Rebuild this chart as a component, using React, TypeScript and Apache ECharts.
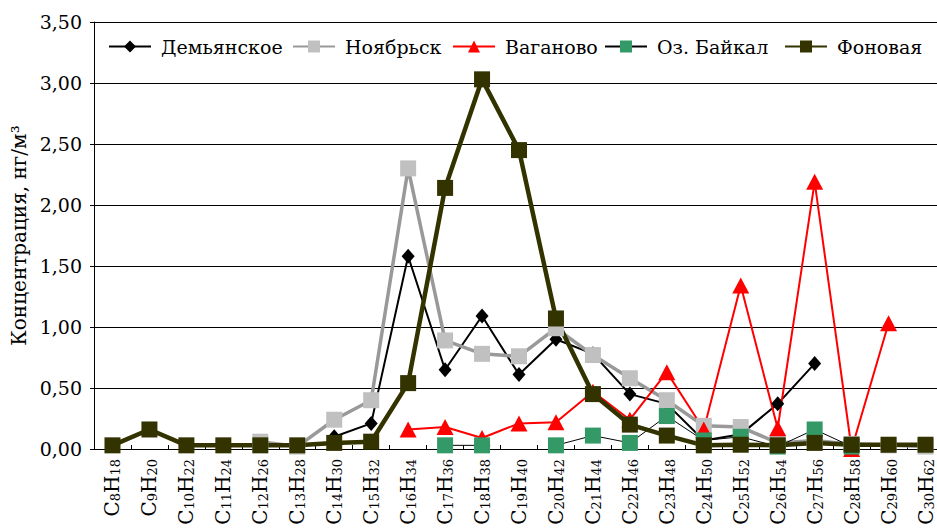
import React, { useEffect, useRef } from 'react';
import * as echarts from 'echarts';

const categories = [
  'C8H18', 'C9H20', 'C10H22', 'C11H24', 'C12H26', 'C13H28', 'C14H30', 'C15H32',
  'C16H34', 'C17H36', 'C18H38', 'C19H40', 'C20H42', 'C21H44', 'C22H46', 'C23H48',
  'C24H50', 'C25H52', 'C26H54', 'C27H56', 'C28H58', 'C29H60', 'C30H62',
];

const demyanskoe = [null, null, null, null, null, null, 0.10, 0.21, 1.58, 0.65, 1.09, 0.61, 0.90, 0.78, 0.45, 0.37, 0.07, 0.12, 0.37, 0.70, null, null, null];
const noyabrsk = [null, null, null, null, 0.06, 0.02, 0.24, 0.40, 2.30, 0.89, 0.78, 0.76, 0.99, 0.77, 0.58, 0.40, 0.19, 0.18, 0.05, 0.07, 0.04, 0.03, 0.02];
const vaganovo = [null, null, null, null, null, null, null, null, 0.16, 0.18, 0.09, 0.21, 0.22, 0.47, 0.24, 0.63, 0.16, 1.34, 0.17, 2.19, 0.00, 1.03, null];
const baikal = [null, null, null, null, null, null, null, null, null, 0.03, 0.03, null, 0.03, 0.11, 0.05, 0.27, 0.07, 0.10, 0.02, 0.16, 0.02, null, null];
const fonovaya = [0.03, 0.16, 0.03, 0.03, 0.03, 0.03, 0.05, 0.06, 0.54, 2.14, 3.03, 2.45, 1.07, 0.45, 0.20, 0.11, 0.03, 0.035, 0.03, 0.05, 0.035, 0.035, 0.035];

const seriesNames = ['Демьянское', 'Ноябрьск', 'Ваганово', 'Оз. Байкал', 'Фоновая'];
const yTicks = { min: 0, max: 3.5, interval: 0.5 };
const yAxisTitle = 'Концентрация, нг/м³';

const SERIF = 'DejaVu Serif';
const legendLefts = [108, 292, 452, 604, 784];

function formatFormula(v: string) {
  const m = v.match(/^C(\d+)H(\d+)$/);
  if (!m) return v;
  return `{n|C}{s|${m[1]}}{n|H}{s|${m[2]}}`;
}

export default function App() {
  const ref = useRef<HTMLDivElement>(null);
  useEffect(() => {
    if (!ref.current) return;
    const chart = echarts.init(ref.current, undefined, { renderer: 'svg' });
    const mk = (name: string, data: any[], line: string, lw: number, fill: string, symbol: string, size: any) => ({
      name,
      type: 'line',
      data,
      connectNulls: false,
      showAllSymbol: true,
      symbol,
      symbolSize: size,
      lineStyle: { color: line, width: lw },
      itemStyle: { color: fill, borderWidth: 0 },
      emphasis: { disabled: true },
    });
    chart.setOption({
      animation: false,
      backgroundColor: '#ffffff',
      legend: seriesNames.map((n, i) => ({
        top: 37,
        left: legendLefts[i],
        itemWidth: 42,
        itemHeight: 15,
        padding: 0,
        textStyle: { fontFamily: SERIF, fontSize: 19, color: '#000', padding: [0, 0, 0, 5] },
        data: [n],
      })),
      grid: { left: 94, right: -7, top: 22, bottom: 80, containLabel: false, outerBoundsMode: 'none' },
      xAxis: {
        type: 'category',
        data: categories,
        boundaryGap: true,
        axisLine: { lineStyle: { color: '#000', width: 1 } },
        axisTick: { show: true, inside: true, length: 4, interval: 0, lineStyle: { color: '#000' } },
        axisLabel: {
          interval: 0,
          rotate: 90,
          margin: 10,
          color: '#000',
          formatter: (v: string) => formatFormula(v),
          rich: {
            n: { fontFamily: SERIF, fontSize: 20, color: '#000' },
            s: { fontFamily: SERIF, fontSize: 13, color: '#000', verticalAlign: 'bottom', padding: [5, 0, 0, 0] },
          },
        },
        splitLine: { show: false },
      },
      yAxis: {
        type: 'value',
        min: yTicks.min,
        max: yTicks.max,
        interval: yTicks.interval,
        name: yAxisTitle,
        nameLocation: 'middle',
        nameGap: 61,
        nameTextStyle: { fontFamily: SERIF, fontSize: 20, color: '#000' },
        axisLine: { show: true, lineStyle: { color: '#000', width: 1 } },
        axisTick: { show: true, inside: false, length: 4, lineStyle: { color: '#000' } },
        axisLabel: {
          margin: 12,
          fontFamily: SERIF,
          fontSize: 19,
          color: '#000',
          formatter: (v: number) => v.toFixed(2).replace('.', ','),
        },
        splitLine: { show: true, lineStyle: { color: '#000', width: 1 } },
      },
      series: [
        mk(seriesNames[0], demyanskoe, '#000000', 2, '#000000', 'diamond', [13, 15]),
        mk(seriesNames[1], noyabrsk, '#999999', 3.5, '#C0C0C0', 'rect', 16),
        mk(seriesNames[2], vaganovo, '#FF0000', 2, '#FF0000', 'triangle', [17, 16]),
        mk(seriesNames[3], baikal, '#000000', 1, '#339966', 'rect', 16),
        mk(seriesNames[4], fonovaya, '#333300', 4.5, '#333300', 'rect', 16),
      ],
    });
    return () => chart.dispose();
  }, []);
  return (
    <div
      ref={ref}
      style={{ position: 'fixed', left: 0, top: 0, width: 937, height: 529, background: '#fff' }}
    />
  );
}
